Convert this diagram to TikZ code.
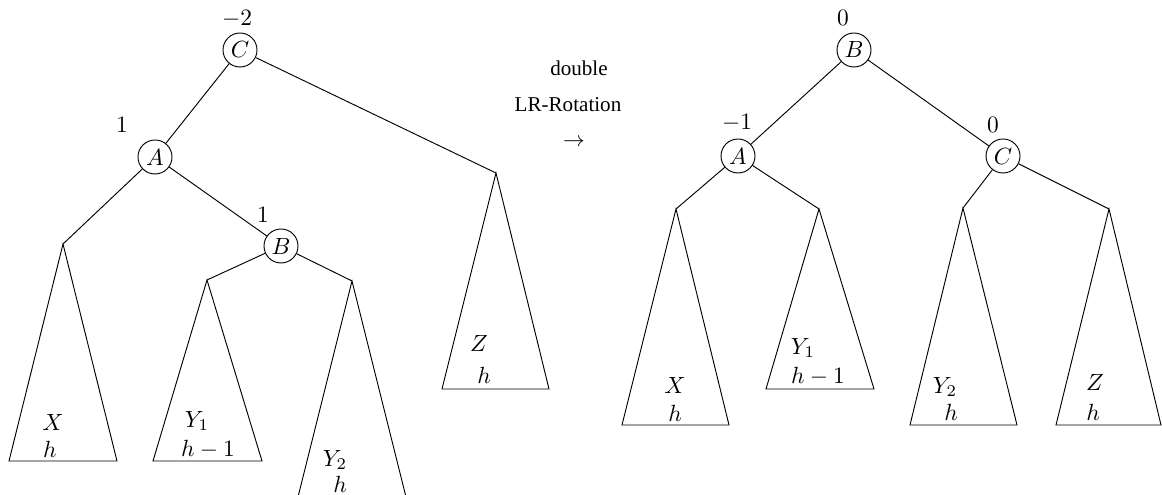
\documentclass[tikz,border=0pt]{standalone}
\usepackage[no-math]{fontspec}
\newfontfamily\rotfont{Liberation Serif}
\usepackage{tikz}

\begin{document}
\begin{tikzpicture}[
    x=0.015cm, y=-0.015cm,
    knot/.style={draw, circle, inner sep=0pt, minimum size=0.51cm},
    bal/.style={inner sep=0pt},
    lab/.style={inner sep=0pt},
    note/.style={inner sep=0pt, font=\small\rotfont}
  ]
    \useasboundingbox (0,0) rectangle (1162,495);

    % Left tree: nodes and balance factors
    \node[knot] (lC) at (240,50)  {$C$};
    \node[knot] (lA) at (155,157) {$A$};
    \node[knot] (lB) at (281,246) {$B$};
    \node[bal] (lbC) at (237,19)  {$-2$};
    \node[bal] (lbA) at (122,125) {$1$};
    \node[bal] (lbB) at (263,215) {$1$};

    % Left tree: subtrees
    \coordinate (lXt) at (63,244);  \coordinate (lXl) at (9,461);   \coordinate (lXr) at (117,461);
    \coordinate (lYat) at (207,280); \coordinate (lYal) at (153,461); \coordinate (lYar) at (262,461);
    \coordinate (lYbt) at (352,281); \coordinate (lYbl) at (298,497); \coordinate (lYbr) at (406,497);
    \coordinate (lZt) at (496,173); \coordinate (lZl) at (442,389); \coordinate (lZr) at (549,389);

    \draw (lXt) -- (lXl) -- (lXr) -- cycle;
    \draw (lYat) -- (lYal) -- (lYar) -- cycle;
    \draw (lYbt) -- (lYbl) -- (lYbr) -- cycle;
    \draw (lZt) -- (lZl) -- (lZr) -- cycle;

    \node[lab] (lXn)  at (53,422)  {$X$};
    \node[lab] (lXh)  at (50,449)  {$h$};
    \node[lab] (lYan) at (197,421) {$Y_1$};
    \node[lab] (lYah) at (208,449) {$h-1$};
    \node[lab] (lYbn) at (335,460) {$Y_2$};
    \node[lab] (lYbh) at (340,484) {$h$};
    \node[lab] (lZn)  at (479,343) {$Z$};
    \node[lab] (lZh)  at (484,375) {$h$};

    % Left tree: edges
    \draw (lC) -- (lA);
    \draw (lC) -- (lZt);
    \draw (lA) -- (lXt);
    \draw (lA) -- (lB);
    \draw (lB) -- (lYat);
    \draw (lB) -- (lYbt);

    % Rotation label
    \node[note] (dbl) at (579,68)  {double};
    \node[note] (lrr) at (568,105) {LR-Rotation};
    \node[lab, font=\small] (arr) at (574,143) {$\rightarrow$};

    % Right tree: nodes and balance factors
    \node[knot] (rB) at (854,50)  {$B$};
    \node[knot] (rA) at (738,156) {$A$};
    \node[knot] (rC) at (1003,156) {$C$};
    \node[bal] (rbB) at (843,18)  {$0$};
    \node[bal] (rbA) at (737,123) {$-1$};
    \node[bal] (rbC) at (993,125) {$0$};

    % Right tree: subtrees
    \coordinate (rXt) at (676,209);  \coordinate (rXl) at (622,425);  \coordinate (rXr) at (729,425);
    \coordinate (rYat) at (819,209); \coordinate (rYal) at (766,389); \coordinate (rYar) at (874,389);
    \coordinate (rYbt) at (963,208); \coordinate (rYbl) at (910,425); \coordinate (rYbr) at (1017,425);
    \coordinate (rZt) at (1109,209); \coordinate (rZl) at (1056,425); \coordinate (rZr) at (1161,425);

    \draw (rXt) -- (rXl) -- (rXr) -- cycle;
    \draw (rYat) -- (rYal) -- (rYar) -- cycle;
    \draw (rYbt) -- (rYbl) -- (rYbr) -- cycle;
    \draw (rZt) -- (rZl) -- (rZr) -- cycle;

    \node[lab] (rXn)  at (675,385)  {$X$};
    \node[lab] (rXh)  at (675,413)  {$h$};
    \node[lab] (rYan) at (803,348)  {$Y_1$};
    \node[lab] (rYah) at (818,376)  {$h-1$};
    \node[lab] (rYbn) at (945,387)  {$Y_2$};
    \node[lab] (rYbh) at (951,412)  {$h$};
    \node[lab] (rZn)  at (1095,382) {$Z$};
    \node[lab] (rZh)  at (1093,412) {$h$};

    % Right tree: edges
    \draw (rB) -- (rA);
    \draw (rB) -- (rC);
    \draw (rA) -- (rXt);
    \draw (rA) -- (rYat);
    \draw (rC) -- (rYbt);
    \draw (rC) -- (rZt);
\end{tikzpicture}
\end{document}
